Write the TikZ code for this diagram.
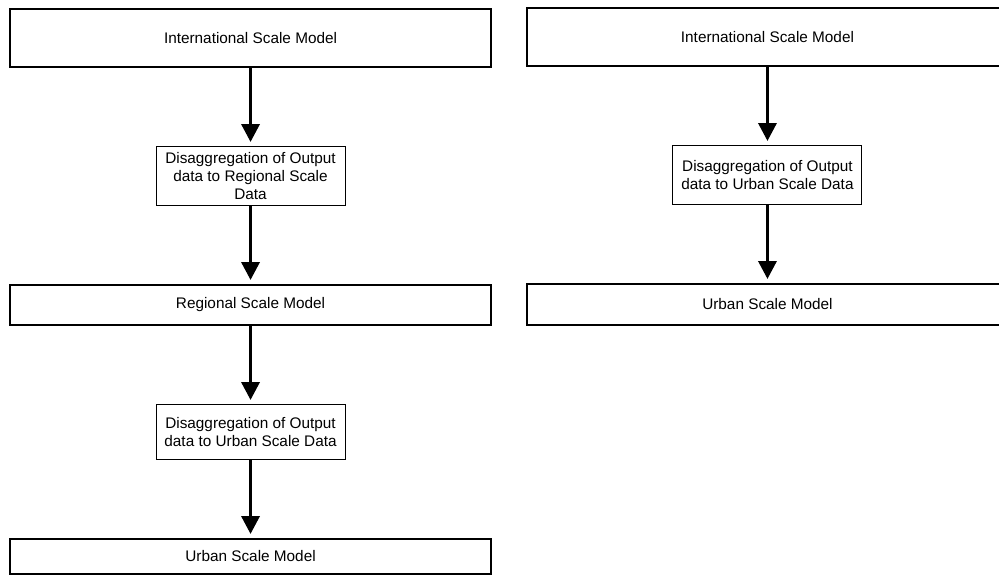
\documentclass[tikz,border=0pt]{standalone}
\usepackage{fontspec}
\setmainfont{Liberation Sans}
\usetikzlibrary{positioning,arrows.meta}

\tikzset{
  model/.style={draw, rectangle, line width=1.5pt, minimum width=360.75pt, minimum height=43.5pt, inner sep=0pt},
  disagg/.style={draw, rectangle, line width=0.75pt, minimum width=141.75pt, minimum height=44.25pt, align=center, inner sep=0pt},
  flow/.style={-{Triangle[length=13.5pt,width=13.5pt]}, line width=2.6pt, shorten >=3pt}
}

\begin{document}
\begin{tikzpicture}[node distance=58.5pt, font=\fontsize{11.5pt}{13.5pt}\selectfont]
  \useasboundingbox (0,0) rectangle (749.25pt,-431.25pt);
  % left chain: international -> regional -> urban
  \node[model] (intl) at (187.9pt,-28.5pt) {International Scale Model};
  \node[disagg, below=of intl] (toreg) {Disaggregation of Output\\data to Regional Scale\\Data};
  \node[model, below=of toreg, minimum height=30pt] (reg) {Regional Scale Model};
  \node[disagg, below=of reg, minimum height=41.25pt] (tourb) {Disaggregation of Output\\data to Urban Scale Data};
  \node[model, below=of tourb, minimum height=26.25pt] (urb) {Urban Scale Model};

  \draw[flow] (intl) -- (toreg);
  \draw[flow] (toreg) -- (reg);
  \draw[flow] (reg) -- (tourb);
  \draw[flow] (tourb) -- (urb);

  % right chain: international -> urban
  \node[model] (intlB) at (575.6pt,-27.75pt) {International Scale Model};
  \node[disagg, below=of intlB] (tourbB) {Disaggregation of Output\\data to Urban Scale Data};
  \node[model, below=of tourbB, minimum height=30.75pt] (urbB) {Urban Scale Model};

  \draw[flow] (intlB) -- (tourbB);
  \draw[flow] (tourbB) -- (urbB);
\end{tikzpicture}
\end{document}
